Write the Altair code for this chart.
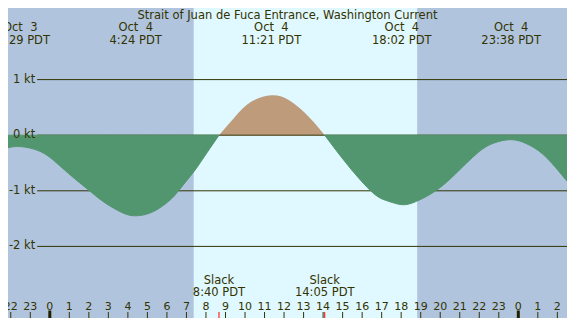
import altair as alt
import pandas as pd

# ---------------- layout ----------------
W, H = 559, 310
SX, SY = W / 575.0, H / 326.0

TITLE = "Strait of Juan de Fuca Entrance, Washington Current"

# ---------------- data (hours from Oct 4 00:00 PDT, knots) ----------------
curve_hour = [-2.14, -1.517, -0.50, 0.35, 1.20, 2.14, 2.84, 3.69, 4.40, 5.33,
              6.18, 6.57, 7.37, 7.83, 8.667, 9.46, 10.31, 11.35, 12.30, 13.30,
              14.083, 15.29, 16.53, 17.28, 18.033, 18.78, 19.77, 20.77,
              21.91, 22.76, 23.633, 24.40, 25.25, 26.10, 26.50]
curve_kt = [-0.225, -0.205, -0.29, -0.50, -0.76, -1.03, -1.22, -1.39, -1.45, -1.37,
            -1.16, -1.01, -0.66, -0.43, 0.0, 0.32, 0.60, 0.72, 0.62, 0.32,
            0.0, -0.55, -1.03, -1.18, -1.25, -1.19, -1.00, -0.70,
            -0.32, -0.14, -0.08, -0.15, -0.34, -0.66, -0.83]

event_hour = [-1.517, 4.400, 11.350, 18.033, 23.633]
event_date = ["Oct\u00a0 3", "Oct\u00a0 4", "Oct\u00a0 4", "Oct\u00a0 4", "Oct\u00a0 4"]
event_time = ["22:29 PDT", "4:24 PDT", "11:21 PDT", "18:02 PDT", "23:38 PDT"]

slack_hour = [8.667, 14.083]
slack_name = ["Slack", "Slack"]
slack_time = ["8:40 PDT", "14:05 PDT"]

level_kt = [1, 0, -1, -2]
level_label = ["1 kt", "0 kt", "-1 kt", "-2 kt"]

tick_hour = list(range(-2, 27))
tick_label = ["22", "23", "0", "1", "2", "3", "4", "5", "6", "7", "8", "9", "10",
              "11", "12", "13", "14", "15", "16", "17", "18", "19", "20", "21",
              "22", "23", "0", "1", "2"]
midnight_hour = [0, 24]

sun_rise = [7.37]
sun_set = [18.82]

X0, X1 = -2.1414, 26.494
Y0, Y1 = -3.288, 2.288

NIGHT = "#b0c4de"
DAY = "#e0f8ff"
GREEN = "#52966f"
TAN = "#bd9b7b"
INK = "#333300"
RED = "#ff0000"
FONT = "DejaVu Sans"
FS = 11.5

xs = alt.Scale(domain=[X0, X1], nice=False, zero=False)
ys = alt.Scale(domain=[Y0, Y1], nice=False, zero=False)

# ---------------- tables ----------------
rows = []
for h, v in zip(curve_hour, curve_kt):
    if h <= slack_hour[0]:
        rows.append({"phase": "ebb1", "hour": h, "kt": v})
    if slack_hour[0] <= h <= slack_hour[1]:
        rows.append({"phase": "flood", "hour": h, "kt": v})
    if h >= slack_hour[1]:
        rows.append({"phase": "ebb2", "hour": h, "kt": v})
curve_df = pd.DataFrame(rows)
curve_df["zero"] = 0.0

sun_df = pd.DataFrame({"rise": sun_rise, "set": sun_set})
level_df = pd.DataFrame({"kt": level_kt, "label": level_label})
event_df = pd.DataFrame({"hour": event_hour, "date": event_date, "time": event_time})
slack_df = pd.DataFrame({"hour": slack_hour, "name": slack_name, "time": slack_time})
tick_df = pd.DataFrame({"hour": tick_hour, "label": tick_label})
mid_df = pd.DataFrame({"hour": midnight_hour})
title_df = pd.DataFrame({"t": [TITLE]})

X = lambda f: alt.X(f, scale=xs, axis=None)
Y = lambda f: alt.Y(f, scale=ys, axis=None)


def txt(df, field, y, size=FS):
    return alt.Chart(df).mark_text(
        align="center", baseline="alphabetic", font=FONT, fontSize=size, color=INK
    ).encode(x=X("hour:Q"), y=alt.value(y), text=field)


day = alt.Chart(sun_df).mark_rect(color=DAY).encode(
    x=X("rise:Q"), x2="set:Q", y=alt.value(0), y2=alt.value(H))

flood = alt.Chart(curve_df).transform_filter("datum.phase == 'flood'").mark_area(
    color=TAN, interpolate="natural").encode(
    x=X("hour:Q"), y=Y("kt:Q"), y2="zero:Q")

grid = alt.Chart(level_df).mark_rule(color=INK, strokeWidth=1).encode(
    x=alt.value(30 * SX), x2=alt.value(W), y=Y("kt:Q"))

ebb = alt.Chart(curve_df).transform_filter("datum.phase != 'flood'").mark_area(
    color=GREEN, stroke=GREEN, strokeWidth=1, interpolate="natural").encode(
    x=X("hour:Q"), y=Y("kt:Q"), y2="zero:Q", detail="phase:N")

level_txt = alt.Chart(level_df).mark_text(
    align="right", baseline="middle", font=FONT, fontSize=FS, color=INK).encode(
    x=alt.value(28 * SX), y=Y("kt:Q"), text="label:N")

title = alt.Chart(title_df).mark_text(
    align="center", baseline="alphabetic", font=FONT, fontSize=FS, color=INK).encode(
    x=alt.value(W / 2), y=alt.value(10.5), text="t:N")

ev_date = txt(event_df, "date:N", 22.5)
ev_time = txt(event_df, "time:N", 35.5)

sl_name = txt(slack_df, "name:N", 275.5)
sl_time = txt(slack_df, "time:N", 288)
hr_txt = txt(tick_df, "label:N", 301.5, 11)

hr_tick = alt.Chart(tick_df).mark_rule(color=INK, strokeWidth=1).encode(
    x=X("hour:Q"), y=alt.value(304), y2=alt.value(H))
mid_tick = alt.Chart(mid_df).mark_rule(color="#221f00", strokeWidth=3).encode(
    x=X("hour:Q"), y=alt.value(302.5), y2=alt.value(H))
sl_tick = alt.Chart(slack_df).mark_rule(color=RED, strokeWidth=1).encode(
    x=X("hour:Q"), y=alt.value(304), y2=alt.value(H))

chart = alt.layer(
    day, flood, grid, ebb, level_txt, title, ev_date, ev_time,
    sl_name, sl_time, hr_txt, hr_tick, mid_tick, sl_tick
).properties(
    width=W, height=H, padding=0,
    autosize=alt.AutoSizeParams(type="none"),
    background=NIGHT,
).configure_view(stroke=None)

chart.save("out.html", embed_options={"renderer": "svg", "actions": False})
